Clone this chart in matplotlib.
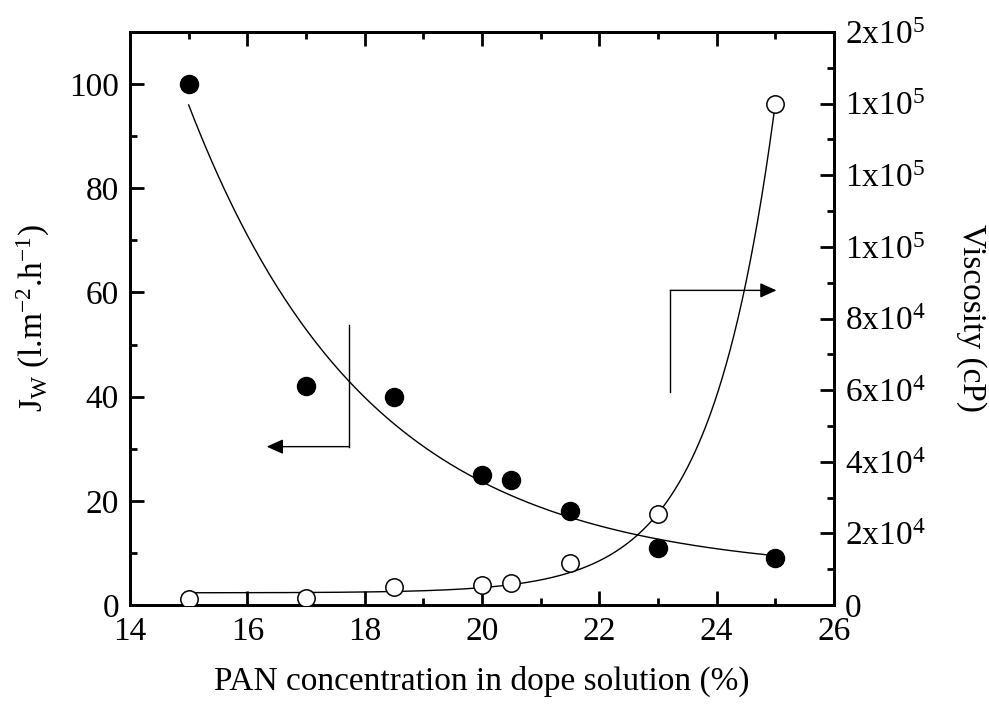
import matplotlib
matplotlib.use("Agg")
import matplotlib.pyplot as plt
import numpy as np
from matplotlib.ticker import MultipleLocator, FuncFormatter

plt.rcParams["font.family"] = "Liberation Serif"
plt.rcParams["mathtext.fontset"] = "custom"
plt.rcParams["mathtext.rm"] = "Liberation Serif"
plt.rcParams["mathtext.it"] = "Liberation Serif:italic"

# data
pan = [15, 17, 18.5, 20, 20.5, 21.5, 23, 25]
flux = [100, 42, 40, 25, 24, 18, 11, 9]
visc = [1700, 2000, 4900, 5600, 6200, 11700, 25500, 140000]

# exponential fit curves as drawn in the picture: y0, A, t (x measured from 15)
flux_fit = (6.0, 90.0, 3.07)     # decay
visc_fit = (3400.0, 15.4, 1.1)   # growth

BLK = "black"
fig = plt.figure(figsize=(9.89, 7.08), dpi=100)
ax = fig.add_axes([130 / 989, 103 / 708, 704 / 989, 573 / 708])
ax2 = ax.twinx()

xx = np.linspace(pan[0], pan[-1], 300)
y0, A, t = flux_fit
ax.plot(xx, y0 + A * np.exp(-(xx - pan[0]) / t), color=BLK, lw=1)
ax.plot(pan, flux, "o", ms=13, color=BLK, zorder=5)
y0, A, t = visc_fit
ax2.plot(xx, y0 + A * np.exp((xx - pan[0]) / t), color=BLK, lw=1)
ax2.plot(pan, visc, "o", ms=12.5, mfc="white", mec=BLK, mew=1.1, zorder=5)

# arrows pointing to the axes
arr = dict(arrowstyle="-|>,head_length=1.0,head_width=0.45", color=BLK, lw=1, shrinkA=0, shrinkB=0)
ax.plot([17.73, 17.73], [53.7, 30.4], color=BLK, lw=1)
ax.annotate("", xy=(16.33, 30.4), xytext=(17.73, 30.4), arrowprops=arr)
ax.plot([23.21, 23.21], [40.9, 60.4], color=BLK, lw=1)
ax.annotate("", xy=(25.02, 60.4), xytext=(23.21, 60.4), arrowprops=arr)

ax.set_xlim(14, 26)
ax.set_ylim(0, 110)
ax2.set_ylim(0, 160000)
ax.xaxis.set_major_locator(MultipleLocator(2))
ax.xaxis.set_minor_locator(MultipleLocator(1))
ax.yaxis.set_major_locator(MultipleLocator(20))
ax.yaxis.set_minor_locator(MultipleLocator(10))
ax2.yaxis.set_major_locator(MultipleLocator(20000))
ax2.yaxis.set_minor_locator(MultipleLocator(10000))


def sci(v, pos):
    if v < 1:
        return "0" if abs(v) < 1 else ""
    e = int(np.floor(np.log10(v)))
    return r"%dx10$^{%d}$" % (round(v / 10 ** e), e)


ax2.yaxis.set_major_formatter(FuncFormatter(sci))

for a in (ax, ax2):
    for s in a.spines.values():
        s.set_linewidth(2)
ax.tick_params(which="both", direction="in", top=True, labelsize=24, width=2, pad=8)
ax.tick_params(which="major", length=10)
ax.tick_params(which="minor", length=5)
ax2.tick_params(which="both", direction="in", labelsize=24, width=2, pad=8)
ax2.tick_params(which="major", length=10)
ax2.tick_params(which="minor", length=5)

ax.set_xlabel("PAN concentration in dope solution (%)", fontsize=24, labelpad=14)
ax.set_ylabel(r"J$_{\mathrm{W}}$ (l.m$^{-2}$.h$^{-1}$)", fontsize=24, labelpad=12)
ax2.set_ylabel("Viscosity (cP)", fontsize=24, rotation=270, labelpad=44)

fig.savefig("out.png", dpi=100)
